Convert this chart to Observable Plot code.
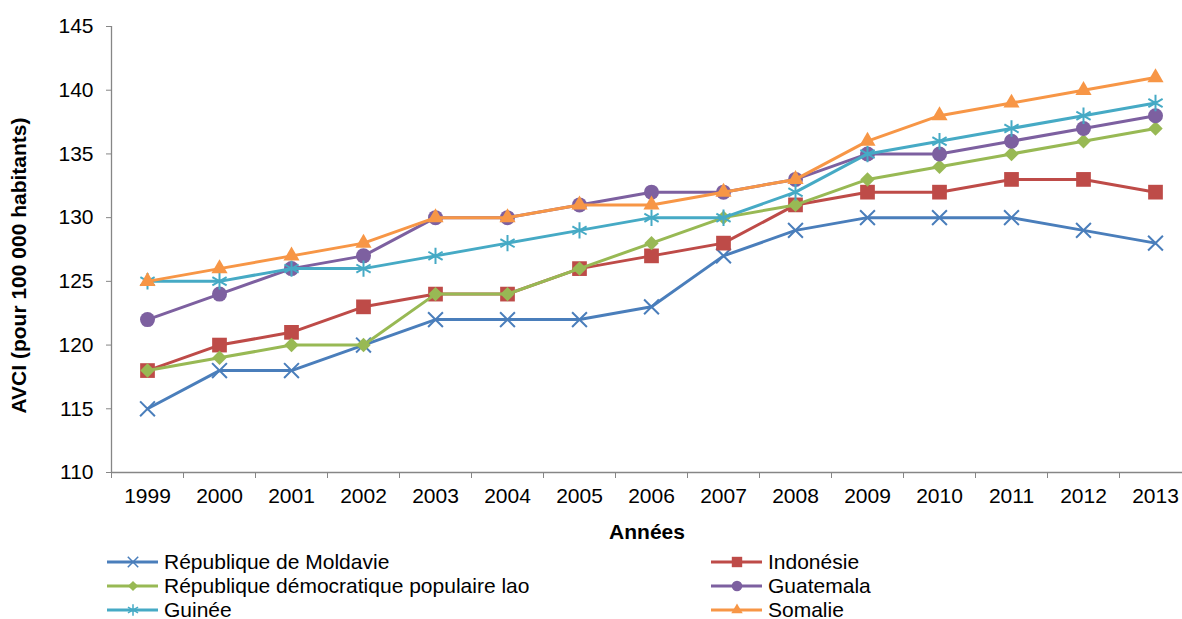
<!DOCTYPE html>
<html>
<head>
<meta charset="utf-8">
<script src="https://cdn.jsdelivr.net/npm/d3@7"></script>
<script src="https://cdn.jsdelivr.net/npm/@observablehq/plot@0.6"></script>
<style>
  body { margin: 0; background: #fff; font-family: "Liberation Sans", Arial, sans-serif; }
  #legend { position: relative; height: 71px; width: 1182px; font-size: 21px; color: #000; }
  .item { position: absolute; display: flex; align-items: center; height: 24px; white-space: nowrap; }
  .item svg { margin-right: 5px; }
</style>
</head>
<body>
<div id="chart"></div>
<div id="legend"></div>
<script>
const years = [1999, 2000, 2001, 2002, 2003, 2004, 2005, 2006, 2007, 2008, 2009, 2010, 2011, 2012, 2013];
const seriesNames = ["République de Moldavie", "Indonésie", "République démocratique populaire lao", "Guatemala", "Guinée", "Somalie"];
const moldavie  = [115, 118, 118, 120, 122, 122, 122, 123, 127, 129, 130, 130, 130, 129, 128];
const indonesie = [118, 120, 121, 123, 124, 124, 126, 127, 128, 131, 132, 132, 133, 133, 132];
const lao       = [118, 119, 120, 120, 124, 124, 126, 128, 130, 131, 133, 134, 135, 136, 137];
const guatemala = [122, 124, 126, 127, 130, 130, 131, 132, 132, 133, 135, 135, 136, 137, 138];
const guinee    = [125, 125, 126, 126, 127, 128, 129, 130, 130, 132, 135, 136, 137, 138, 139];
const somalie   = [125, 126, 127, 128, 130, 130, 131, 131, 132, 133, 136, 138, 139, 140, 141];
const yTicks = [110, 115, 120, 125, 130, 135, 140, 145];
const xLabel = "Années";
const yLabel = "AVCI (pour 100 000 habitants)";

const values = [moldavie, indonesie, lao, guatemala, guinee, somalie];
const colors = ["#4A7EBB", "#BE4B48", "#98B954", "#7D60A0", "#46AAC5", "#F79646"];
const symbols = ["times", "square", "diamond2", "circle", "asterisk", "triangle"];
const radii = [6.8, 8.3, 6.5, 7.5, 7.8, 6];
const filled = [false, true, true, true, false, true];

const data = [];
seriesNames.forEach((s, i) => years.forEach((y, j) => data.push({series: s, idx: i, year: y, value: values[i][j]})));

const marks = [
  Plot.axisY({ticks: yTicks, tickSize: 5, tickPadding: 13, fontSize: 21, stroke: "#868686", label: null}),
  Plot.axisX({ticks: years.map(y => y - 0.5).concat([2013.5]), tickSize: 6, stroke: "#868686", text: null, label: null}),
  Plot.axisX({ticks: years, tickSize: 0, tickPadding: 16, fontSize: 21, tickFormat: d => String(d), label: null}),
  Plot.ruleY([110], {stroke: "#868686", strokeWidth: 1.3}),
  Plot.ruleX([1998.5], {stroke: "#868686", strokeWidth: 1.3}),
  Plot.text([xLabel], {frameAnchor: "bottom", dy: 66, fontSize: 21, fontWeight: "bold", fill: "#000"}),
  Plot.text([yLabel], {frameAnchor: "left", textAnchor: "middle", dx: -92, dy: 16, rotate: -90, fontSize: 21, fontWeight: "bold", fill: "#000"})
];
seriesNames.forEach((s, i) => {
  const d = data.filter(r => r.idx === i);
  marks.push(Plot.line(d, {x: "year", y: "value", stroke: colors[i], strokeWidth: 3, strokeLinejoin: "round"}));
  marks.push(Plot.dot(d, {
    x: "year", y: "value", symbol: () => symbols[i], r: radii[i],
    fill: filled[i] ? colors[i] : "none",
    stroke: colors[i], strokeWidth: filled[i] ? 0 : 2
  }));
});

const chart = Plot.plot({
  width: 1182,
  height: 548,
  marginLeft: 111,
  marginTop: 26,
  marginBottom: 76,
  marginRight: 0,
  style: {fontFamily: "'Liberation Sans', Arial, sans-serif", color: "#000", background: "#fff"},
  x: {domain: [1998.5, 2013.5], range: [111, 1191]},
  y: {domain: [110, 145]},
  symbol: {type: "identity"},
  marks
});
document.getElementById("chart").appendChild(chart);

// Legend
const legend = d3.select("#legend");
const pos = [[106, 0], [710, 0], [106, 24], [710, 24], [106, 48], [710, 48]];
const symMap = {times: d3.symbolTimes, square: d3.symbolSquare, diamond2: d3.symbolDiamond2, circle: d3.symbolCircle, asterisk: d3.symbolAsterisk, triangle: d3.symbolTriangle};
seriesNames.forEach((s, i) => {
  const item = legend.append("div").attr("class", "item").style("left", pos[i][0] + "px").style("top", (pos[i][1] + 2) + "px");
  const sv = item.append("svg").attr("width", 53).attr("height", 20);
  sv.append("line").attr("x1", 1).attr("x2", 52).attr("y1", 10).attr("y2", 10).attr("stroke", colors[i]).attr("stroke-width", 3);
  sv.append("path").attr("transform", "translate(27,10)")
    .attr("d", d3.symbol(symMap[symbols[i]], Math.PI * radii[i] * radii[i] * 0.5)())
    .attr("fill", filled[i] ? colors[i] : "none").attr("stroke", colors[i]).attr("stroke-width", filled[i] ? 0 : 1.5);
  item.append("span").text(s);
});
</script>
</body>
</html>
